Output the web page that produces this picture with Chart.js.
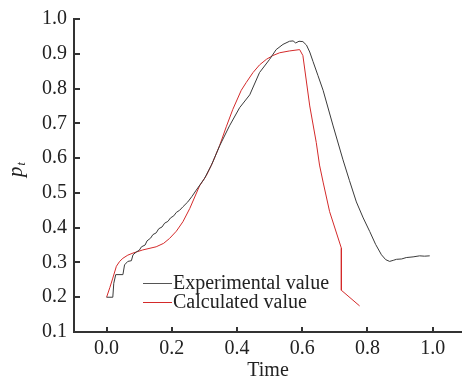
<!DOCTYPE html>
<html>
<head>
<meta charset="utf-8">
<script src="https://cdn.jsdelivr.net/npm/chart.js@4.4.0/dist/chart.umd.min.js"></script>
<style>
html,body{margin:0;padding:0;background:#fff;}
canvas{display:block;}
</style>
</head>
<body>
<canvas id="c" width="462" height="384"></canvas>
<script>
const xTicks = [0.0, 0.2, 0.4, 0.6, 0.8, 1.0];
const yTicks = [0.1, 0.2, 0.3, 0.4, 0.5, 0.6, 0.7, 0.8, 0.9, 1.0];
const seriesNames = ['Experimental value', 'Calculated value'];

const expT = [0.0, 0.019, 0.022, 0.028, 0.05, 0.055, 0.065, 0.076, 0.081, 0.091, 0.1, 0.107, 0.118, 0.124, 0.135, 0.142, 0.152, 0.16, 0.17, 0.178, 0.188, 0.196, 0.206, 0.214, 0.224, 0.234, 0.249, 0.262, 0.275, 0.3, 0.321, 0.347, 0.377, 0.408, 0.439, 0.469, 0.5, 0.52, 0.541, 0.561, 0.572, 0.58, 0.59, 0.602, 0.613, 0.623, 0.633, 0.648, 0.664, 0.694, 0.725, 0.745, 0.766, 0.787, 0.807, 0.825, 0.843, 0.856, 0.868, 0.879, 0.889, 0.905, 0.919, 0.94, 0.96, 0.975, 0.991];
const expV = [0.2, 0.2, 0.24, 0.265, 0.265, 0.293, 0.303, 0.305, 0.322, 0.33, 0.335, 0.345, 0.35, 0.362, 0.37, 0.38, 0.385, 0.397, 0.402, 0.413, 0.418, 0.428, 0.434, 0.444, 0.45, 0.46, 0.474, 0.49, 0.508, 0.541, 0.579, 0.636, 0.693, 0.745, 0.782, 0.846, 0.884, 0.912, 0.927, 0.936, 0.937, 0.931, 0.936, 0.935, 0.925, 0.905, 0.878, 0.838, 0.795, 0.695, 0.595, 0.535, 0.474, 0.428, 0.389, 0.352, 0.322, 0.308, 0.303, 0.306, 0.309, 0.31, 0.314, 0.316, 0.319, 0.318, 0.319];

const calcT = [0.0, 0.01, 0.019, 0.03, 0.04, 0.05, 0.065, 0.081, 0.111, 0.152, 0.175, 0.193, 0.214, 0.234, 0.255, 0.285, 0.306, 0.326, 0.347, 0.367, 0.387, 0.413, 0.428, 0.449, 0.469, 0.49, 0.51, 0.531, 0.56, 0.592, 0.602, 0.623, 0.643, 0.653, 0.664, 0.684, 0.72, 0.72, 0.776];
const calcV = [0.2, 0.228, 0.255, 0.289, 0.303, 0.312, 0.321, 0.327, 0.336, 0.345, 0.355, 0.369, 0.39, 0.417, 0.455, 0.52, 0.55, 0.589, 0.637, 0.69, 0.74, 0.795, 0.817, 0.846, 0.868, 0.884, 0.895, 0.903, 0.908, 0.912, 0.895, 0.75, 0.645, 0.58, 0.531, 0.446, 0.341, 0.22, 0.175];

const FONT = 'Liberation Serif, Times New Roman, serif';
const AXIS = '#333';
const BLACK = '#3a3a3a';
const RED = '#d42a2a';

const toXY = (ts, vs) => ts.map((t, i) => ({x: t, y: vs[i]}));

const extras = {
  id: 'extras',
  afterDraw(chart) {
    const ctx = chart.ctx;
    const xs = chart.scales.x, ys = chart.scales.y;
    const a = chart.chartArea;
    ctx.save();
    // inward ticks
    ctx.strokeStyle = AXIS;
    ctx.lineWidth = 2;
    ctx.beginPath();
    yTicks.forEach(v => {
      const p = Math.round(ys.getPixelForValue(v));
      ctx.moveTo(a.left, p); ctx.lineTo(a.left + 6, p);
    });
    xTicks.forEach(v => {
      const p = Math.round(xs.getPixelForValue(v));
      ctx.moveTo(p, a.bottom); ctx.lineTo(p, a.bottom - 5);
    });
    ctx.stroke();
    // legend
    const legend = [[seriesNames[0], '#555', 283], [seriesNames[1], RED, 302]];
    ctx.font = '20px ' + FONT;
    ctx.textBaseline = 'middle';
    ctx.textAlign = 'left';
    legend.forEach(([txt, col, y]) => {
      ctx.strokeStyle = col; ctx.lineWidth = 1;
      ctx.beginPath(); ctx.moveTo(143, y + 0.5); ctx.lineTo(172, y + 0.5); ctx.stroke();
      ctx.fillStyle = '#222';
      ctx.fillText(txt, 173, y + 1);
    });
    // y axis label p_t
    ctx.translate(22, 177);
    ctx.rotate(-Math.PI / 2);
    ctx.fillStyle = '#222';
    ctx.textBaseline = 'alphabetic';
    ctx.font = 'italic 21px ' + FONT;
    ctx.fillText('p', 0, 0);
    const w = ctx.measureText('p').width;
    ctx.font = 'italic 12px ' + FONT;
    ctx.fillText('t', w + 1, 3);
    ctx.restore();
  }
};

new Chart(document.getElementById('c'), {
  type: 'scatter',
  data: {
    datasets: [
      {label: seriesNames[0], data: toXY(expT, expV), showLine: true, borderColor: BLACK, borderWidth: 1, pointRadius: 0, tension: 0},
      {label: seriesNames[1], data: toXY(calcT, calcV), showLine: true, borderColor: RED, borderWidth: 1, pointRadius: 0, tension: 0}
    ]
  },
  options: {
    responsive: false,
    animation: false,
    devicePixelRatio: 1,
    layout: {padding: {top: 16, right: 0, bottom: 0, left: 0}},
    plugins: {legend: {display: false}, tooltip: {enabled: false}},
    scales: {
      x: {
        type: 'linear', min: -0.1, max: 1.09,
        grid: {display: false, drawTicks: false},
        border: {display: true, color: AXIS, width: 2},
        afterBuildTicks: s => { s.ticks = xTicks.map(v => ({value: v})); },
        afterFit: s => { s.height = 52; },
        ticks: {autoSkip: false, maxRotation: 0, padding: 5, color: '#222', font: {family: FONT, size: 20}, callback: v => v.toFixed(1)},
        title: {display: true, text: 'Time', color: '#222', font: {family: FONT, size: 20}, padding: {top: 0, bottom: 1}}
      },
      y: {
        type: 'linear', min: 0.1, max: 1.0,
        grid: {display: false, drawTicks: false},
        border: {display: true, color: AXIS, width: 2},
        afterBuildTicks: s => { s.ticks = yTicks.map(v => ({value: v})); },
        afterFit: s => { s.width = 74; },
        ticks: {autoSkip: false, padding: 7, color: '#222', font: {family: FONT, size: 20}, callback: v => v.toFixed(1)}
      }
    }
  },
  plugins: [extras]
});
</script>
</body>
</html>
